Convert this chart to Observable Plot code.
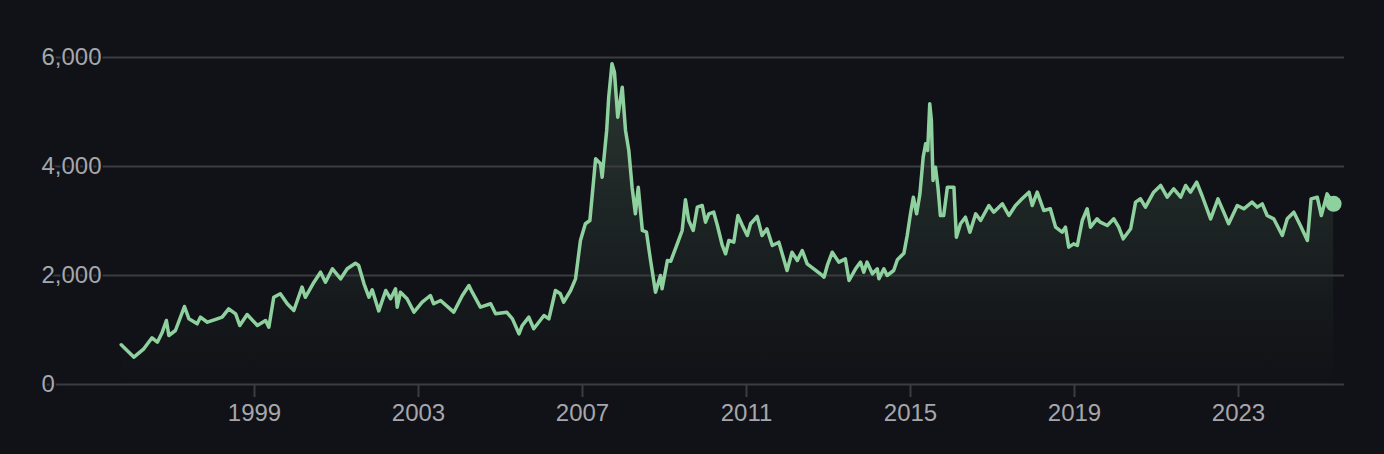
<!DOCTYPE html>
<html>
<head>
<meta charset="utf-8">
<script src="https://cdn.jsdelivr.net/npm/d3@7"></script>
<script src="https://cdn.jsdelivr.net/npm/@observablehq/plot@0.6"></script>
<style>
  html, body { margin: 0; padding: 0; background: #111217; }
  #chart svg { display: block; }
</style>
</head>
<body>
<div id="chart"></div>
<script>
// Decimal years and values
const years = [
  1995.75, 1996.06, 1996.30, 1996.50, 1996.63, 1996.75, 1996.85, 1996.91, 1997.07, 1997.29,
  1997.40, 1997.60, 1997.68, 1997.85, 1998.09, 1998.21, 1998.37, 1998.54, 1998.64, 1998.82,
  1999.07, 1999.27, 1999.35, 1999.47, 1999.63, 1999.80, 1999.96, 2000.16, 2000.24, 2000.45,
  2000.61, 2000.73, 2000.90, 2001.10, 2001.26, 2001.46, 2001.54, 2001.67, 2001.79, 2001.87,
  2002.03, 2002.20, 2002.32, 2002.44, 2002.48, 2002.56, 2002.72, 2002.89, 2003.09, 2003.29,
  2003.37, 2003.54, 2003.86, 2004.07, 2004.23, 2004.31, 2004.51, 2004.76, 2004.88, 2005.15,
  2005.29, 2005.45, 2005.53, 2005.69, 2005.81, 2006.06, 2006.18, 2006.34, 2006.46, 2006.54,
  2006.71, 2006.83, 2006.95, 2007.07, 2007.18, 2007.32, 2007.44, 2007.48, 2007.59, 2007.64,
  2007.72, 2007.78, 2007.86, 2007.97, 2008.05, 2008.13, 2008.21, 2008.29, 2008.36, 2008.46,
  2008.56, 2008.66, 2008.78, 2008.90, 2008.94, 2009.07, 2009.15, 2009.31, 2009.43, 2009.51,
  2009.59, 2009.70, 2009.80, 2009.92, 2010.00, 2010.08, 2010.20, 2010.29, 2010.41, 2010.49,
  2010.57, 2010.69, 2010.79, 2010.90, 2011.02, 2011.10, 2011.26, 2011.38, 2011.50, 2011.63,
  2011.79, 2011.99, 2012.11, 2012.24, 2012.36, 2012.48, 2012.64, 2012.80, 2012.89, 2012.97,
  2013.09, 2013.25, 2013.41, 2013.50, 2013.66, 2013.78, 2013.86, 2013.94, 2014.07, 2014.19,
  2014.23, 2014.35, 2014.43, 2014.59, 2014.68, 2014.84, 2014.92, 2015.00, 2015.07, 2015.15,
  2015.23, 2015.31, 2015.37, 2015.42, 2015.47, 2015.51, 2015.55, 2015.61, 2015.67, 2015.73,
  2015.81, 2015.90, 2016.06, 2016.12, 2016.22, 2016.34, 2016.45, 2016.59, 2016.71, 2016.91,
  2017.03, 2017.24, 2017.40, 2017.56, 2017.72, 2017.89, 2017.97, 2018.09, 2018.25, 2018.41,
  2018.54, 2018.70, 2018.78, 2018.86, 2018.98, 2019.07, 2019.19, 2019.31, 2019.39, 2019.55,
  2019.63, 2019.80, 2019.96, 2020.08, 2020.19, 2020.37, 2020.49, 2020.61, 2020.73, 2020.93,
  2021.10, 2021.26, 2021.42, 2021.59, 2021.71, 2021.83, 2021.98, 2022.11, 2022.32, 2022.50,
  2022.64, 2022.76, 2022.97, 2023.13, 2023.33, 2023.46, 2023.58, 2023.70, 2023.86, 2024.07,
  2024.19, 2024.35, 2024.51, 2024.68, 2024.77, 2024.92, 2025.02, 2025.16, 2025.32
];
const values = [
  728, 501, 655, 857, 777, 960, 1174, 899, 991, 1431,
  1205, 1114, 1235, 1143, 1205, 1235, 1389, 1297, 1083, 1284,
  1083, 1174, 1051, 1602, 1664, 1481, 1358, 1786, 1600, 1877,
  2061, 1877, 2123, 1939, 2123, 2226, 2184, 1848, 1602, 1738,
  1350, 1725, 1573, 1756, 1419, 1694, 1573, 1327, 1510, 1633,
  1481, 1541, 1327, 1633, 1817, 1694, 1419, 1481, 1297, 1327,
  1205, 930, 1083, 1235, 1022, 1266, 1205, 1725, 1664, 1510,
  1725, 1939, 2642, 2949, 3009, 4141, 4049, 3804, 4661, 5272,
  5885, 5731, 4905, 5455, 4661, 4294, 3620, 3132, 3620, 2826,
  2795, 2275, 1694, 2000, 1756, 2275, 2261, 2581, 2826, 3389,
  3009, 2826, 3254, 3285, 2978, 3132, 3162, 2918, 2551, 2398,
  2642, 2611, 3101, 2918, 2734, 2949, 3083, 2734, 2857, 2551,
  2611, 2092, 2427, 2275, 2459, 2215, 2123, 2031, 1969, 2184,
  2427, 2245, 2306, 1908, 2123, 2245, 2061, 2245, 2031, 2123,
  1939, 2123, 2000, 2092, 2290, 2410, 2734, 3132, 3437, 3132,
  3498, 4171, 4416, 4294, 5151, 4845, 3743, 3988, 3620, 3101,
  3101, 3620, 3620, 2703, 2949, 3070, 2795, 3132, 3009, 3285,
  3162, 3315, 3101, 3285, 3407, 3529, 3285, 3529, 3193, 3224,
  2887, 2795, 2887, 2520, 2581, 2550, 3009, 3224, 2887, 3040,
  2978, 2918, 3040, 2887, 2673, 2857, 3346, 3407, 3254, 3529,
  3652, 3437, 3591, 3437, 3652, 3529, 3713, 3468, 3040, 3407,
  3162, 2949, 3285, 3224, 3346, 3254, 3315, 3101, 3040, 2734,
  3040, 3162, 2918, 2642, 3407, 3437, 3101, 3498, 3315
];
const yTicks = [0, 2000, 4000, 6000];
const xTickYears = [1999, 2003, 2007, 2011, 2015, 2019, 2023];

function decToDate(y) {
  const yr = Math.floor(y);
  const start = Date.UTC(yr, 0, 1), end = Date.UTC(yr + 1, 0, 1);
  return new Date(start + (y - yr) * (end - start));
}

const data = years.map((y, i) => ({date: decToDate(y), value: values[i]}));
const last = [data[data.length - 1]];

const BG = "#111217";
const LINE = "#8fd19e";
const GRID = "#3b3c41";
const TEXT = "#a6a7ac";
const FONT = "'Liberation Sans', Arial, Helvetica, sans-serif";

const gradientDefs = () => {
  const ns = "http://www.w3.org/2000/svg";
  const defs = document.createElementNS(ns, "defs");
  const g = document.createElementNS(ns, "linearGradient");
  g.setAttribute("id", "fillGrad");
  g.setAttribute("gradientUnits", "userSpaceOnUse");
  g.setAttribute("x1", "0"); g.setAttribute("x2", "0");
  g.setAttribute("y1", "57"); g.setAttribute("y2", "384");
  [[0, 0.2], [0.85, 0.02], [1, 0]].forEach(([o, a]) => {
    const s = document.createElementNS(ns, "stop");
    s.setAttribute("offset", o);
    s.setAttribute("stop-color", LINE);
    s.setAttribute("stop-opacity", a);
    g.appendChild(s);
  });
  defs.appendChild(g);
  return defs;
};

const chart = Plot.plot({
  width: 1384,
  height: 454,
  marginLeft: 46,
  marginRight: 40,
  marginTop: 57,
  marginBottom: 70,
  style: {background: BG, fontFamily: FONT, color: TEXT},
  x: {type: "utc", domain: [decToDate(1993.926), decToDate(2025.585)]},
  y: {domain: [0, 6000]},
  marks: [
    gradientDefs,
    Plot.areaY(data, {x: "date", y: "value", fill: "url(#fillGrad)", curve: "linear"}),
    Plot.ruleY(yTicks, {stroke: GRID, strokeWidth: 2}),
    Plot.lineY(data, {x: "date", y: "value", stroke: LINE, strokeWidth: 3.5, strokeLinejoin: "round"}),
    Plot.dot(last, {x: "date", y: "value", r: 8, fill: LINE}),
    Plot.text(yTicks, {
      y: d => d,
      text: d => d3.format(",")(d),
      frameAnchor: "left",
      textAnchor: "start",
      dx: -5,
      fontSize: 24,
      fill: TEXT,
      stroke: BG,
      strokeWidth: 4
    }),
    Plot.axisX(xTickYears.map(y => new Date(Date.UTC(y, 0, 1))), {
      tickSize: 13,
      tickPadding: 6,
      tickFormat: d => String(d.getUTCFullYear()),
      fontSize: 24,
      stroke: GRID,
      strokeWidth: 2,
      fill: TEXT,
      label: null
    }),
    Plot.axisY({ticks: [], label: null, tickSize: 0})
  ]
});
document.getElementById("chart").appendChild(chart);
</script>
</body>
</html>
